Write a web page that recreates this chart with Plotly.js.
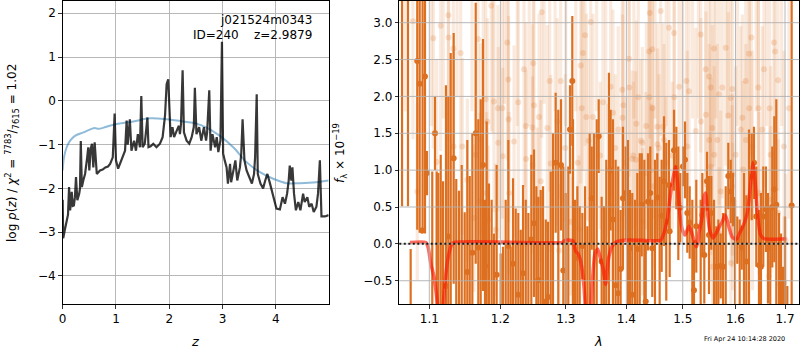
<!DOCTYPE html>
<html><head><meta charset="utf-8">
<script src="https://cdn.plot.ly/plotly-3.0.1.min.js"></script>
<style>html,body{margin:0;padding:0;background:#fff}#chart{width:800px;height:350px}</style>
</head><body><div id="chart"></div>
<script>
// ---------- left panel: log p(z) ----------
const pzZ = [0.00,0.01,0.04,0.075,0.10,0.12,0.14,0.17,0.19,0.21,0.23,0.25,0.275,0.31,0.325,0.34,0.36,0.39,0.42,0.46,
 0.48,0.50,0.525,0.55,0.575,0.60,0.64,0.70,0.75,0.80,0.85,0.89,0.94,0.975,1.00,1.04,1.10,1.17,1.20,1.22,
 1.26,1.29,1.34,1.375,1.41,1.45,1.475,1.50,1.54,1.59,1.61,1.65,1.70,1.76,1.825,1.875,1.92,1.95,1.98,2.00,
 2.025,2.06,2.09,2.14,2.18,2.20,2.22,2.25,2.275,2.325,2.375,2.42,2.46,2.48,2.51,2.56,2.60,2.65,2.69,2.71,
 2.75,2.775,2.81,2.86,2.89,2.92,2.96,2.988,3.01,3.04,3.075,3.10,3.14,3.16,3.20,3.24,3.275,3.325,3.35,3.375,
 3.41,3.45,3.50,3.55,3.59,3.61,3.64,3.66,3.71,3.76,3.80,3.84,3.89,3.95,4.01,4.075,4.125,4.17,4.21,4.24,
 4.26,4.29,4.31,4.34,4.375,4.42,4.46,4.51,4.54,4.59,4.625,4.67,4.71,4.76,4.79,4.825,4.855,4.92,4.99];
const pzLogP = [-2.26,-3.14,-2.95,-2.77,-2.6,-1.97,-2.5,-2.08,-2.4,-2.39,-2.2,-1.74,-2.27,-2.12,-2.0,-0.92,-1.97,-1.8,-1.67,-1.29,
 -1.06,-1.59,-1.10,-0.98,-1.52,-0.95,-1.67,-1.59,-1.57,-1.52,-1.5,-1.44,-1.29,-0.29,-1.36,-1.55,-1.36,-1.14,-0.45,-1.0,
 -0.42,-1.14,-0.91,-1.14,-0.76,-1.06,0.11,-1.06,-0.98,-0.38,-1.06,-1.04,-0.98,-1.06,-0.98,-0.83,-0.34,0.38,0.49,0.0,
 -0.83,-0.6,-0.83,-0.68,-0.57,-0.76,-0.53,0.70,-0.72,-0.91,-0.98,-0.83,-0.6,0.30,-0.76,-0.6,-0.91,-0.6,-0.91,-0.72,
 0.24,-1.14,-0.76,-1.06,-0.83,-1.17,-0.9,1.35,-1.2,-1.36,-1.52,-1.89,-1.44,-1.86,-1.59,-1.36,-1.82,-1.52,-1.21,-0.42,
 -1.36,-1.59,-1.74,-1.89,-1.67,-1.29,0.15,-1.67,-1.89,-2.0,-1.82,-1.67,-1.89,-2.2,-2.46,-2.48,-2.2,-2.35,-2.12,-1.82,
 -1.48,-1.82,-1.52,-2.12,-2.5,-2.31,-2.5,-2.12,-2.31,-2.2,-2.42,-2.35,-2.54,-2.42,-2.12,-1.36,-2.64,-2.64,-2.61];
const priorZ = [0,0.025,0.075,0.14,0.23,0.39,0.54,0.6,0.67,0.825,1.01,1.325,1.64,1.95,2.26,2.51,2.7,2.95,3.2,3.45,3.7,3.95,4.2,4.45,4.76,4.99];
const priorLogP = [-1.59,-1.29,-1.06,-0.91,-0.8,-0.72,-0.64,-0.62,-0.64,-0.59,-0.53,-0.47,-0.40,-0.42,-0.47,-0.52,-0.61,-0.80,-1.06,-1.40,-1.63,-1.78,-1.88,-1.88,-1.86,-1.82];

// ---------- right panel: spectrum ----------
const specWave = [1.0639,1.0717,1.0752,1.0839,1.0871,1.0905,1.0910,1.0942,1.0969,1.1040,1.1077,1.1100,1.1122,1.1155,1.1187,1.1227,1.1259,1.1292,1.1333,1.1369,
 1.1407,1.1445,1.1487,1.1524,1.1558,1.1595,1.1643,1.1680,1.1714,1.1747,1.1776,1.1800,1.1833,1.1872,1.1906,1.1945,1.2004,1.2038,1.2078,1.2117,
 1.2152,1.2187,1.2227,1.2266,1.2302,1.2337,1.2378,1.2418,1.2463,1.2504,1.2540,1.2570,1.2607,1.2643,1.2685,1.2720,1.2762,1.2798,1.2840,1.2881,
 1.2924,1.2960,1.2998,1.3040,1.3067,1.3104,1.3115,1.3148,1.3185,1.3223,1.3266,1.3310,1.3348,1.3386,1.3419,1.3457,1.3501,1.3534,1.3583,1.3622,
 1.3660,1.3705,1.3733,1.3772,1.3817,1.3861,1.3902,1.3942,1.3988,1.4028,1.4062,1.4102,1.4149,1.4189,1.4231,1.4266,1.4312,1.4336,1.4376,1.4416,
 1.4451,1.4499,1.4540,1.4582,1.4618,1.4660,1.4701,1.4750,1.4762,1.4841,1.4883,1.4919,1.4955,1.5005,1.5042,1.5084,1.5128,1.5177,1.5208,1.5251,
 1.5333,1.5364,1.5401,1.5452,1.5490,1.5534,1.5585,1.5629,1.5668,1.5714,1.5758,1.5810,1.5860,1.5907,1.5952,1.5991,1.6036,1.6083,1.6123,1.6168,
 1.6214,1.6267,1.6321,1.6367,1.6413,1.6467,1.6507,1.6554,1.6608,1.6649,1.6696,1.6737,1.6779,1.6820,1.6876,1.6917,1.6959,1.7000,1.7048,1.7139];
const specFlux = [3.5,3.5,-1.0,2.48,2.17,0.18,3.5,2.27,0.96,-1.0,1.50,-1.0,-1.0,-1.0,-1.0,-0.57,0.10,-1.0,1.16,-1.0,
 -1.0,-1.0,-1.0,-0.38,-1.0,-0.12,1.50,-0.05,-1.0,1.07,-0.30,-1.0,-1.0,-1.0,-1.0,-0.42,-1.0,-1.0,-1.0,-0.03,
 -1.0,-0.27,-1.0,-0.69,-1.0,-0.40,-1.0,-1.0,0.06,0.28,-1.0,-0.49,-1.0,-1.0,-0.78,-0.72,-1.0,-1.0,1.10,-1.0,
 1.07,-0.36,-1.0,-1.0,1.55,2.21,-1.0,-0.19,-1.0,-1.0,-0.03,-1.0,-1.0,-1.0,0.62,-1.0,-1.0,1.46,-0.24,-1.0,
 -1.0,-1.0,1.00,0.33,-0.56,-0.67,-0.34,0.62,0.69,-1.0,-0.06,-0.69,-1.0,-0.07,-1.0,0.53,-1.0,-0.78,0.57,0.69,
 -0.06,-1.0,0.63,-1.0,0.38,0.85,0.30,0.80,0.17,1.27,1.03,0.55,0.49,1.05,1.14,0.42,0.29,-1.0,-0.63,0.24,
 -1.0,0.39,-0.15,0.85,0.12,0.42,-1.0,-0.31,-1.0,-0.30,-0.31,-1.0,0.92,0.71,0.60,-1.0,0.05,-1.0,-0.05,-1.0,
 -0.24,-1.0,0.91,1.10,0.37,-0.29,-0.31,0.37,0.47,-0.06,-1.0,0.50,0.74,0.53,-1.0,-1.0,-1.0,-1.0,-1.0,0.52];
const specErr = [2.99,2.99,0.93,2.29,2.02,0.04,3.3,2.13,0.3,1.98,0.5,1.98,1.96,2.21,1.85,2.72,1.9,3.59,1.7,1.88,
 1.72,2.07,1.43,1.79,1.92,1.62,1.77,1.74,2.96,1.71,0.9,2.66,1.82,1.6,1.14,1.49,0.87,0.96,1.6,1.44,
 0.96,1.16,1.48,1.11,1.19,1.2,1.6,1.42,1.15,1.0,1.78,1.13,1.73,1.78,1.11,1.02,1.98,2.5,0.95,2.82,
 0.89,1.41,1.69,2.05,0.6,0.88,2.69,0.79,1.78,1.51,0.45,1.78,1.24,2.5,0.7,2.5,2.69,0.5,0.88,1.51,
 2.14,3.32,0.82,1.36,1.7,1.72,0.8,0.97,0.63,2.41,0.79,1.38,1.6,1.03,2.23,0.7,2.14,0.83,0.66,0.63,
 0.66,2.14,0.6,1.91,0.76,0.88,1.07,0.61,0.62,0.55,0.56,0.77,0.47,0.27,0.52,0.54,0.49,1.6,0.68,0.63,
 1.6,0.57,0.66,0.4,0.8,0.5,1.6,0.55,1.33,0.44,0.73,1.78,0.45,0.43,0.36,1.6,0.32,1.33,0.3,1.96,
 0.9,2.55,0.59,0.49,0.68,0.75,1.0,0.68,0.58,0.75,1.51,0.82,0.99,1.43,1.42,1.14,0.69,1.37,0.43,4.0];

// faded spectrum in the background
const bgWave = [1.0782,1.0839,1.1054,1.1100,1.1155,1.1259,1.1262,1.1328,1.1331,1.1431,1.1453,1.1524,1.1619,1.1643,1.1676,1.1704,1.1714,1.1786,1.1800,1.1809,
 1.1823,1.1867,1.1906,1.1931,1.1964,1.1969,1.2028,1.2035,1.2102,1.2117,1.2121,1.2127,1.2202,1.2266,1.2352,1.2378,1.2382,1.2478,1.2482,1.2493,
 1.2504,1.2555,1.2581,1.2607,1.2622,1.2709,1.2746,1.2762,1.2866,1.2892,1.2919,1.3078,1.3104,1.3212,1.3239,1.3256,1.3277,1.3310,1.3331,1.3402,
 1.3440,1.3605,1.3734,1.3751,1.3772,1.3862,1.3930,1.3935,1.3950,1.4045,1.4050,1.4102,1.4161,1.4172,1.4206,1.4276,1.4280,1.4336,1.4346,1.4394,
 1.4398,1.4406,1.4451,1.4455,1.4464,1.4540,1.4545,1.4601,1.4642,1.4660,1.4750,1.4841,1.4846,1.4932,1.5066,1.5084,1.5116,1.5240,1.5333,1.5338,
 1.5428,1.5432,1.5490,1.5494,1.5522,1.5526,1.5518,1.5553,1.5557,1.5585,1.5589,1.5648,1.5681,1.5685,1.5714,1.5744,1.5810,1.5860,1.5907,1.5911,
 1.5938,1.5942,1.5934,1.5946,1.6005,1.6103,1.6135,1.6148,1.6202,1.6206,1.6267,1.6271,1.6313,1.6333,1.6337,1.6453,1.6457,1.6467,1.6534,1.6568,
 1.6669,1.6684,1.6704,1.6708,1.6772,1.6793,1.6855,1.6860,1.6979,1.6983,1.7014,1.7083,
 1.0680,1.1030,1.1190,1.1380,1.1590,1.1750,1.1890,1.2060,1.2250,1.2430,1.2660,1.2830,1.3000,1.3160,1.3500,1.3650,1.4130,1.4500,1.4700,1.4990,
 1.5180,1.5290,1.5620,1.5850,1.6040,1.6410,1.6620,1.6930,
 1.2990,1.3190,1.3370,1.3560,1.3690,1.3810,1.3990,1.4120,1.4250,1.4430,1.4570,1.4690,1.4810];
const bgFlux = [3.02,0.71,2.79,1.11,2.96,3.10,2.80,2.65,1.32,2.59,1.32,0.87,0.35,1.21,2.78,0.58,1.42,1.96,0.69,1.66,
 0.33,3.23,1.93,0.19,1.84,1.37,1.84,1.19,2.73,2.23,1.69,0.69,1.39,1.92,2.37,1.60,1.15,1.58,1.07,2.45,
 1.88,0.58,1.72,0.85,3.14,1.57,2.21,1.09,1.66,-0.09,2.21,0.30,0.01,0.20,2.42,1.84,2.59,2.83,1.72,3.01,
 1.72,1.92,2.13,0.51,1.78,1.55,2.09,1.71,1.88,2.51,2.12,1.15,1.14,1.63,1.99,1.37,0.30,0.96,1.60,2.61,
 1.99,3.13,2.64,1.84,0.78,1.59,1.35,3.16,1.59,1.41,2.93,2.86,1.99,2.13,2.21,1.32,2.07,1.53,2.84,1.66,
 2.37,1.75,2.27,1.41,2.12,1.05,0.51,1.57,-0.31,2.65,1.21,1.41,2.03,0.14,0.71,2.12,2.66,1.74,1.98,-0.26,
 2.10,0.94,0.78,0.37,1.21,1.55,1.71,1.01,2.21,1.41,2.58,1.84,2.80,1.32,0.37,2.12,1.84,0.69,1.55,2.37,
 -0.44,1.84,1.21,0.60,2.73,2.61,2.22,0.42,1.32,-0.53,0.05,1.84,
 3.6,3.5,3.7,3.6,3.8,3.5,3.6,3.7,3.5,3.6,3.8,3.5,3.6,3.7,3.6,3.5,3.6,3.7,3.5,3.6,
 3.5,3.7,3.6,3.5,3.6,3.7,3.5,3.6,
 1.3,1.1,1.4,1.2,1.0,1.3,1.1,1.2,1.4,1.0,1.3,1.1,1.2];
const bgErr = [1.6,1.2,1.5,1.4,1.7,1.6,1.4,1.5,1.3,1.6,1.2,1.1,1.0,1.3,1.5,1.2,1.3,1.5,1.1,1.4,
 1.0,1.7,1.5,0.9,1.4,1.3,1.5,1.2,1.6,1.5,1.4,1.1,1.3,1.5,1.6,1.4,1.2,1.4,1.2,1.6,
 1.5,1.0,1.4,1.1,1.7,1.4,1.5,1.2,1.4,0.9,1.6,1.0,0.9,1.0,1.6,1.5,1.6,1.5,1.4,1.7,
 1.4,1.5,1.5,1.0,1.4,1.4,1.5,1.4,1.5,1.6,1.5,1.2,1.2,1.4,1.5,1.3,1.0,1.1,1.4,1.6,
 1.5,1.7,1.6,1.5,1.1,1.4,1.3,1.7,1.4,1.3,1.6,1.6,1.5,1.5,1.6,1.3,1.5,1.4,1.6,1.4,
 1.6,1.4,1.5,1.3,1.5,1.2,1.0,1.4,0.9,1.6,1.2,1.3,1.5,0.9,1.1,1.5,1.6,1.4,1.5,0.9,
 1.5,1.1,1.1,1.0,1.2,1.4,1.4,1.2,1.6,1.3,1.6,1.5,1.6,1.3,1.0,1.5,1.5,1.1,1.4,1.6,
 0.9,1.5,1.2,1.0,1.6,1.6,1.5,1.0,1.3,0.9,0.9,1.5,
 1.8,1.9,2.0,1.6,2.0,1.8,2.1,1.8,1.9,2.0,1.9,1.7,2.0,1.9,1.8,2.0,1.9,2.0,1.9,2.1,
 1.8,2.0,1.9,1.8,2.0,1.9,1.9,2.0,
 1.0,0.9,1.1,1.0,0.9,1.0,0.9,1.0,1.1,0.9,1.0,0.9,1.0];

// best-fit model
const modelWave = [1.0743,1.0952,1.0987,1.1018,1.1063,1.1094,1.1131,1.1155,1.1177,1.1213,1.1259,1.1306,1.1338,1.2940,1.2998,1.3078,1.3115,1.3159,1.3201,1.3256,
 1.3294,1.3318,1.3358,1.3399,1.3428,1.3473,1.3517,1.3555,1.3610,1.3650,1.3693,1.3760,1.3834,1.3977,1.4236,1.4601,1.4660,1.4719,1.4780,1.4841,
 1.4871,1.4901,1.4945,1.4993,1.5042,1.5084,1.5116,1.5166,1.5208,1.5251,1.5289,1.5302,1.5352,1.5396,1.5428,1.5458,1.5503,1.5566,1.5629,1.5694,
 1.5744,1.5796,1.5835,1.5887,1.5938,1.6017,1.6083,1.6148,1.6234,1.6281,1.6321,1.6347,1.6387,1.6433,1.6501,1.6568,1.7026];
const modelFlux = [0.02,0.02,-0.06,-0.26,-0.44,-0.67,-1.0,-1.2,-1.0,-0.53,-0.17,-0.01,0.02,0.02,0.05,0.05,0.04,-0.10,-0.14,-0.31,
 -0.6,-0.9,-1.2,-0.95,-0.53,-0.13,-0.07,-0.17,-0.35,-0.55,-0.22,-0.03,0.03,0.05,0.05,0.05,0.15,0.33,0.69,0.96,
 1.05,0.87,0.42,0.19,0.12,0.19,0.24,0.15,0.05,-0.04,0.05,0.15,0.33,0.64,0.69,0.46,0.19,0.08,0.15,0.24,
 0.30,0.39,0.33,0.19,0.09,0.06,0.15,0.24,0.42,0.69,0.96,1.10,0.87,0.42,0.12,0.07,0.07];

// ticks
const zTicks = [0,1,2,3,4];
const pzTicks = [-4,-3,-2,-1,0,1,2];
const waveTicks = [1.1,1.2,1.3,1.4,1.5,1.6,1.7];
const fluxTicks = [-0.5,0.0,0.5,1.0,1.5,2.0,2.5,3.0];

// ---------- build ----------
const W = 800, H = 350;
const fmt = (v, d) => (v < 0 ? '\u2212' : '') + Math.abs(v).toFixed(d);
const FONT = 'DejaVu Sans';
const ORANGE = 'rgb(221,112,32)';
const GRID = '#b0b0b0';
const px = x => x / W, py = y => 1 - y / H;

const xr2 = [0.025448, 0.238045];
const yr2 = [-0.8155, 3.294];

const traces = [
  {x: priorZ, y: priorLogP, xaxis: 'x', yaxis: 'y', mode: 'lines', line: {color: 'rgba(31,119,180,0.5)', width: 2, shape: 'spline'}, hoverinfo: 'skip'},
  {x: pzZ, y: pzLogP, xaxis: 'x', yaxis: 'y', mode: 'lines', line: {color: 'rgba(0,0,0,0.78)', width: 2.2}, hoverinfo: 'skip'},
  {x: bgWave, y: bgFlux, xaxis: 'x2', yaxis: 'y2', mode: 'markers', marker: {size: 6, color: 'rgba(221,112,32,0.2)'},
   error_y: {type: 'data', array: bgErr, visible: true, color: 'rgba(221,112,32,0.15)', thickness: 3.2, width: 0}, hoverinfo: 'skip'},
  {x: specWave, y: specFlux, xaxis: 'x2', yaxis: 'y2', mode: 'markers', marker: {size: 6, color: ORANGE},
   error_y: {type: 'data', array: specErr, visible: true, color: ORANGE, thickness: 2.2, width: 0}, hoverinfo: 'skip'},
  {x: modelWave, y: modelFlux, xaxis: 'x2', yaxis: 'y2', mode: 'lines', line: {color: 'rgba(255,20,0,0.62)', width: 3.5, shape: 'spline', smoothing: 0.6}, hoverinfo: 'skip'}
];

const shapes = [];
const fracX = v => (Math.log10(v) - xr2[0]) / (xr2[1] - xr2[0]);
fluxTicks.forEach(v => shapes.push({type: 'line', xref: 'x2 domain', yref: 'y2', x0: 0, x1: 1, y0: v, y1: v, line: {color: GRID, width: 0.9}, layer: 'above'}));
waveTicks.forEach(v => shapes.push({type: 'line', xref: 'x2 domain', yref: 'y2 domain', x0: fracX(v), x1: fracX(v), y0: 0, y1: 1, line: {color: GRID, width: 0.9}, layer: 'above'}));
shapes.push({type: 'line', xref: 'x2 domain', yref: 'y2', x0: 0, x1: 1, y0: 0, y1: 0, line: {color: 'rgba(0,0,0,0.85)', width: 2, dash: '2px,2.5px'}, layer: 'above'});

const axBase = {ticks: 'outside', ticklen: 3.5, tickwidth: 0.8, tickcolor: '#000', showline: true, mirror: true, linecolor: '#000', linewidth: 1,
  zeroline: false, tickfont: {family: FONT, size: 12, color: '#000'}, automargin: false};
const yDom = [1 - 304 / H, 1 - 1 / H];

const layout = {
  width: W, height: H, autosize: false, showlegend: false,
  margin: {l: 0, r: 0, t: 0, b: 0, pad: 0},
  paper_bgcolor: '#fff', plot_bgcolor: '#fff',
  font: {family: FONT, size: 12, color: '#000'},
  xaxis: Object.assign({}, axBase, {domain: [px(62.67), px(328.67)], range: [0, 4.99], tickvals: zTicks, ticktext: zTicks.map(v => fmt(v, 0)),
    showgrid: true, gridcolor: GRID, gridwidth: 0.9, anchor: 'y'}),
  yaxis: Object.assign({}, axBase, {domain: yDom, range: [-4.64, 2.28], tickvals: pzTicks, ticktext: pzTicks.map(v => fmt(v, 0)),
    showgrid: true, gridcolor: GRID, gridwidth: 0.9, anchor: 'x'}),
  xaxis2: Object.assign({}, axBase, {type: 'log', domain: [px(399.3), px(799.3)], range: xr2, tickvals: waveTicks, ticktext: waveTicks.map(v => fmt(v, 1)),
    showgrid: false, anchor: 'y2'}),
  yaxis2: Object.assign({}, axBase, {domain: yDom, range: yr2, tickvals: fluxTicks, ticktext: fluxTicks.map(v => fmt(v, 1)),
    showgrid: false, anchor: 'x2'}),
  shapes: shapes,
  annotations: [
    {text: 'j021524m0343', xref: 'paper', yref: 'paper', x: px(313.5), y: py(20), xanchor: 'right', yanchor: 'middle', showarrow: false, font: {family: FONT, size: 12}},
    {text: 'ID=240\u00a0\u00a0\u00a0\u00a0z=2.9879', xref: 'paper', yref: 'paper', x: px(313.5), y: py(35), xanchor: 'right', yanchor: 'middle', showarrow: false, font: {family: FONT, size: 12}},
    {text: 'log <i>p</i>(<i>z</i>) / <i>χ</i><sup>2</sup> = <sup>7783</sup>/<sub>7615</sub> = 1.02', xref: 'paper', yref: 'paper', x: px(12), y: py(153), textangle: -90,
      xanchor: 'center', yanchor: 'middle', showarrow: false, font: {family: FONT, size: 12}},
    {text: '<i>z</i>', xref: 'paper', yref: 'paper', x: px(195), y: py(341), xanchor: 'center', yanchor: 'middle', showarrow: false, font: {family: FONT, size: 13}},
    {text: '<i>f</i><sub>λ</sub> × 10<sup>−19</sup>', xref: 'paper', yref: 'paper', x: px(340), y: py(153), textangle: -90,
      xanchor: 'center', yanchor: 'middle', showarrow: false, font: {family: FONT, size: 12}},
    {text: '<i>λ</i>', xref: 'paper', yref: 'paper', x: px(598), y: py(341), xanchor: 'center', yanchor: 'middle', showarrow: false, font: {family: FONT, size: 13}},
    {text: 'Fri Apr 24 10:14:28 2020', xref: 'paper', yref: 'paper', x: px(744), y: py(339), xanchor: 'center', yanchor: 'middle', showarrow: false, font: {family: FONT, size: 6.5}}
  ]
};

Plotly.newPlot('chart', traces, layout, {staticPlot: true, displayModeBar: false});
</script>
</body></html>
